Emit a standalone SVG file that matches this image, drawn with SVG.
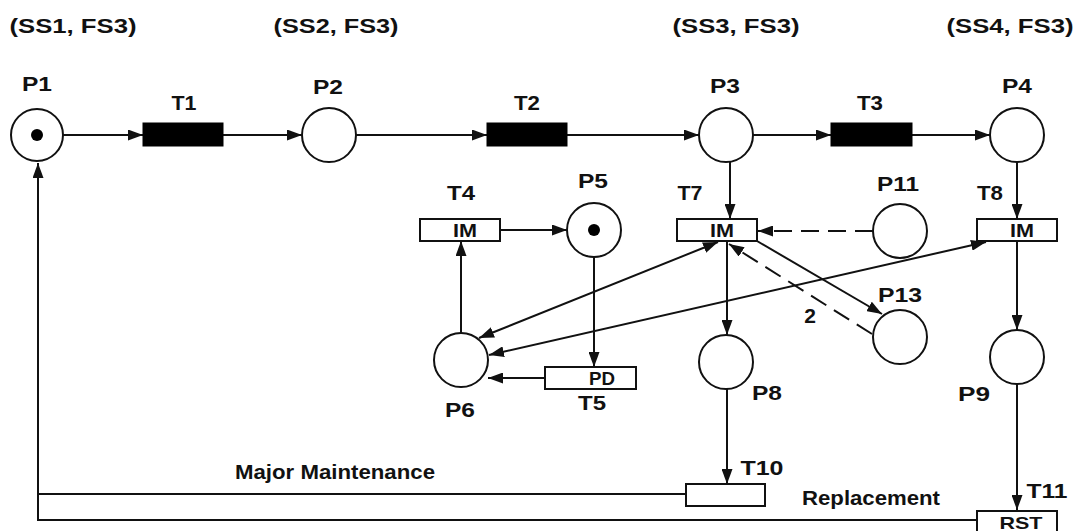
<svg xmlns="http://www.w3.org/2000/svg" width="1084" height="531" viewBox="0 0 1084 531">
<style>
.pl{fill:#fff;stroke:#111;stroke-width:2}
.tb{fill:#000;stroke:#000;stroke-width:1}
.tw{fill:#fff;stroke:#111;stroke-width:2}
.tok{fill:#000}
.lb{font-family:"Liberation Sans",Arial,sans-serif;font-weight:bold;font-size:21px;fill:#111;text-anchor:middle}
.in{font-size:18px}
.e{stroke:#111;stroke-width:2;fill:none}
.d{stroke-dasharray:18 9}
</style>
<defs>
<marker id="a" markerUnits="userSpaceOnUse" markerWidth="15" markerHeight="11" refX="15" refY="5.5" orient="auto-start-reverse">
<path d="M0,0 L15,5.5 L0,11 z" fill="#111"/>
</marker>
</defs>
<rect width="1084" height="531" fill="#fff"/>
<g id="state-labels">
<text class="lb" x="73" y="33" textLength="127" lengthAdjust="spacingAndGlyphs">(SS1, FS3)</text>
<text class="lb" x="336" y="33" textLength="125" lengthAdjust="spacingAndGlyphs">(SS2, FS3)</text>
<text class="lb" x="736" y="33" textLength="127" lengthAdjust="spacingAndGlyphs">(SS3, FS3)</text>
<text class="lb" x="1010" y="33" textLength="127" lengthAdjust="spacingAndGlyphs">(SS4, FS3)</text>
</g>
<g id="connectors">
<line class="e" x1="63" y1="135" x2="143" y2="135" marker-end="url(#a)"/>
<line class="e" x1="223" y1="135" x2="302" y2="135" marker-end="url(#a)"/>
<line class="e" x1="356" y1="135" x2="487" y2="135" marker-end="url(#a)"/>
<line class="e" x1="567" y1="135" x2="699" y2="135" marker-end="url(#a)"/>
<line class="e" x1="753" y1="135" x2="831" y2="135" marker-end="url(#a)"/>
<line class="e" x1="912" y1="135" x2="990" y2="135" marker-end="url(#a)"/>
<line class="e" x1="730" y1="162" x2="730" y2="219" marker-end="url(#a)"/>
<line class="e" x1="1017" y1="162" x2="1017" y2="219" marker-end="url(#a)"/>
<line class="e" x1="500" y1="230" x2="567" y2="230" marker-end="url(#a)"/>
<line class="e" x1="594" y1="257" x2="594" y2="367" marker-end="url(#a)"/>
<line class="e" x1="545" y1="378" x2="488" y2="378" marker-end="url(#a)"/>
<line class="e" x1="461" y1="333" x2="461" y2="241" marker-end="url(#a)"/>
<line class="e" x1="479" y1="338" x2="718" y2="242" marker-start="url(#a)" marker-end="url(#a)"/>
<line class="e" x1="489" y1="355" x2="986" y2="242" marker-start="url(#a)" marker-end="url(#a)"/>
<line class="e d" x1="873" y1="231" x2="758" y2="231" marker-end="url(#a)"/>
<line class="e" x1="757" y1="241" x2="882" y2="314" marker-end="url(#a)"/>
<line class="e d" x1="872" y1="334" x2="729" y2="244" marker-end="url(#a)"/>
<line class="e" x1="727" y1="241" x2="727" y2="335" marker-end="url(#a)"/>
<line class="e" x1="1017" y1="241" x2="1017" y2="330" marker-end="url(#a)"/>
<line class="e" x1="727" y1="389" x2="727" y2="484" marker-end="url(#a)"/>
<line class="e" x1="1017" y1="384" x2="1017" y2="510" marker-end="url(#a)"/>
<line class="e" x1="686" y1="494" x2="38" y2="494"/>
<polyline class="e" points="977,520 38,520 38,163" marker-end="url(#a)"/>
<text class="lb" x="810" y="323">2</text>
<text class="lb" x="335" y="479" textLength="200" lengthAdjust="spacingAndGlyphs">Major Maintenance</text>
<text class="lb" x="871" y="505" textLength="138" lengthAdjust="spacingAndGlyphs">Replacement</text>
</g>
<g id="P1"><circle class="pl" cx="37" cy="135" r="26"/><circle class="tok" cx="37" cy="135" r="6"/><text class="lb" x="37" y="91" textLength="30" lengthAdjust="spacingAndGlyphs">P1</text></g>
<g id="T1"><rect class="tb" x="143" y="123" width="80" height="23"/><text class="lb" x="184" y="110" textLength="25" lengthAdjust="spacingAndGlyphs">T1</text></g>
<g id="P2"><circle class="pl" cx="329" cy="135" r="27"/><text class="lb" x="328" y="94" textLength="30" lengthAdjust="spacingAndGlyphs">P2</text></g>
<g id="T2"><rect class="tb" x="487" y="123" width="80" height="23"/><text class="lb" x="527" y="110" textLength="26" lengthAdjust="spacingAndGlyphs">T2</text></g>
<g id="P3"><circle class="pl" cx="726" cy="135" r="27"/><text class="lb" x="725" y="93" textLength="30" lengthAdjust="spacingAndGlyphs">P3</text></g>
<g id="T3"><rect class="tb" x="831" y="123" width="81" height="23"/><text class="lb" x="870" y="110" textLength="26" lengthAdjust="spacingAndGlyphs">T3</text></g>
<g id="P4"><circle class="pl" cx="1017" cy="135" r="27"/><text class="lb" x="1017" y="93" textLength="30" lengthAdjust="spacingAndGlyphs">P4</text></g>
<g id="T4"><rect class="tw" x="420" y="219" width="80" height="22"/><text class="lb in" x="465" y="237" textLength="24" lengthAdjust="spacingAndGlyphs">IM</text><text class="lb" x="461" y="200" textLength="28" lengthAdjust="spacingAndGlyphs">T4</text></g>
<g id="P5"><circle class="pl" cx="594" cy="230" r="27"/><circle class="tok" cx="594" cy="230" r="6"/><text class="lb" x="593" y="188" textLength="30" lengthAdjust="spacingAndGlyphs">P5</text></g>
<g id="T7"><rect class="tw" x="677" y="219" width="80" height="22"/><text class="lb in" x="722" y="237" textLength="24" lengthAdjust="spacingAndGlyphs">IM</text><text class="lb" x="690" y="200" textLength="25" lengthAdjust="spacingAndGlyphs">T7</text></g>
<g id="P11"><circle class="pl" cx="900" cy="231" r="27"/><text class="lb" x="898" y="191" textLength="42" lengthAdjust="spacingAndGlyphs">P11</text></g>
<g id="T8"><rect class="tw" x="977" y="219" width="80" height="22"/><text class="lb in" x="1022" y="237" textLength="24" lengthAdjust="spacingAndGlyphs">IM</text><text class="lb" x="990" y="200" textLength="26" lengthAdjust="spacingAndGlyphs">T8</text></g>
<g id="P13"><circle class="pl" cx="900" cy="337" r="27"/><text class="lb" x="900" y="302" textLength="44" lengthAdjust="spacingAndGlyphs">P13</text></g>
<g id="P6"><circle class="pl" cx="461" cy="360" r="27"/><text class="lb" x="460" y="417" textLength="30" lengthAdjust="spacingAndGlyphs">P6</text></g>
<g id="T5"><rect class="tw" x="545" y="367" width="91" height="22"/><text class="lb in" x="602" y="385" textLength="26" lengthAdjust="spacingAndGlyphs">PD</text><text class="lb" x="592" y="410" textLength="28" lengthAdjust="spacingAndGlyphs">T5</text></g>
<g id="P8"><circle class="pl" cx="726" cy="362" r="27"/><text class="lb" x="767" y="400" textLength="30" lengthAdjust="spacingAndGlyphs">P8</text></g>
<g id="P9"><circle class="pl" cx="1017" cy="357" r="27"/><text class="lb" x="974" y="401" textLength="32" lengthAdjust="spacingAndGlyphs">P9</text></g>
<g id="T10"><rect class="tw" x="686" y="484" width="79" height="22"/><text class="lb" x="762" y="475" textLength="43" lengthAdjust="spacingAndGlyphs">T10</text></g>
<g id="T11"><rect class="tw" x="977" y="511" width="80" height="24"/><text class="lb" x="1021" y="529" style="font-size:17px" textLength="43" lengthAdjust="spacingAndGlyphs">RST</text><text class="lb" x="1047" y="498" textLength="41" lengthAdjust="spacingAndGlyphs">T11</text></g>
</svg>
